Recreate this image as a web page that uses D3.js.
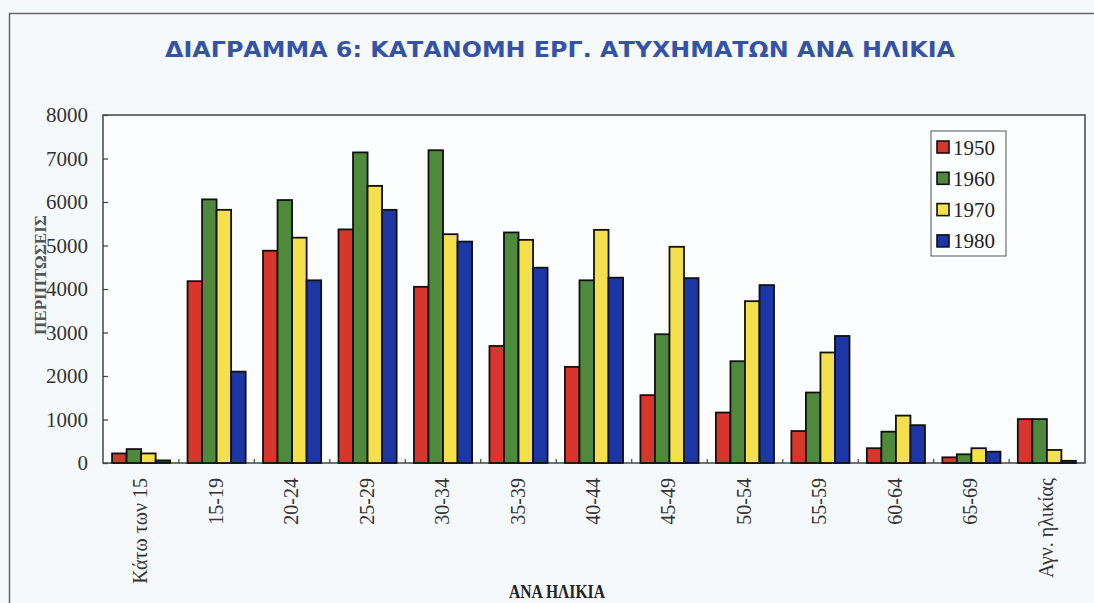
<!DOCTYPE html>
<html>
<head>
<meta charset="utf-8">
<script src="https://cdn.jsdelivr.net/npm/d3@7"></script>
<style>
  html, body { margin: 0; padding: 0; background: #f6f9fc; }
  svg { display: block; }
</style>
</head>
<body>
<div id="chart"></div>
<script>
// age groups
const categories = ['Κάτω των 15', '15-19', '20-24', '25-29', '30-34', '35-39', '40-44',
  '45-49', '50-54', '55-59', '60-64', '65-69', 'Αγν. ηλικίας'];
const years = ['1950', '1960', '1970', '1980'];

// cases per year
const values1950 = [220, 4180, 4880, 5370, 4050, 2690, 2210, 1560, 1160, 735, 340, 130, 1010];
const values1960 = [320, 6060, 6045, 7140, 7190, 5300, 4200, 2960, 2340, 1620, 720, 200, 1010];
const values1970 = [220, 5820, 5180, 6370, 5260, 5130, 5360, 4970, 3720, 2540, 1090, 340, 300];
const values1980 = [60, 2100, 4200, 5820, 5090, 4490, 4260, 4250, 4090, 2920, 870, 260, 50];
const yTicks = [0, 1000, 2000, 3000, 4000, 5000, 6000, 7000, 8000];

const title = 'ΔΙΑΓΡΑΜΜΑ 6: ΚΑΤΑΝΟΜΗ ΕΡΓ. ΑΤΥΧΗΜΑΤΩΝ ΑΝΑ ΗΛΙΚΙΑ';
const yTitle = 'ΠΕΡΙΠΤΩΣΕΙΣ';
const xTitle = 'ΑΝΑ ΗΛΙΚΙΑ';

const seriesValues = [values1950, values1960, values1970, values1980];
const colors = ['#d8352c', '#4f8a3c', '#f4df4c', '#1d36a6'];

const width = 1094, height = 603;
const plotLeft = 103, plotRight = 1085, plotTop = 115, plotBottom = 463;

const svg = d3.select('#chart').append('svg')
  .attr('width', width)
  .attr('height', height);

// outer page frame
svg.append('path')
  .attr('d', `M9.5,${height} V13.5 H${width}`)
  .attr('fill', 'none')
  .attr('stroke', '#666')
  .attr('stroke-width', 1.5);

svg.append('text')
  .attr('x', 560)
  .attr('y', 57)
  .attr('text-anchor', 'middle')
  .attr('textLength', 790)
  .attr('lengthAdjust', 'spacingAndGlyphs')
  .style('font-family', '"DejaVu Sans", sans-serif')
  .style('font-weight', 'bold')
  .style('font-size', '22px')
  .style('fill', '#3553a6')
  .text(title);

const x0 = d3.scaleBand()
  .domain(categories)
  .range([plotLeft, plotRight])
  .paddingInner(0.23)
  .paddingOuter(0.12);

const x1 = d3.scaleBand()
  .domain(years)
  .range([0, x0.bandwidth()]);

const y = d3.scaleLinear()
  .domain([0, 8000])
  .range([plotBottom, plotTop]);

// plot frame
svg.append('rect')
  .attr('x', plotLeft)
  .attr('y', plotTop)
  .attr('width', plotRight - plotLeft)
  .attr('height', plotBottom - plotTop)
  .attr('fill', '#fbfdfe')
  .attr('stroke', '#444')
  .attr('stroke-width', 1.5);

// y axis: labels outside, ticks inside
const yAxis = svg.append('g')
  .attr('transform', `translate(${plotLeft},0)`)
  .call(d3.axisRight(y).tickValues(yTicks).tickSize(5).tickFormat(''));
yAxis.select('.domain').remove();
yAxis.selectAll('line').attr('stroke', '#444').attr('stroke-width', 1.2);

svg.append('g').selectAll('text')
  .data(yTicks)
  .join('text')
  .attr('x', plotLeft - 15)
  .attr('y', d => y(d))
  .attr('dy', '0.35em')
  .attr('text-anchor', 'end')
  .style('font-family', '"Liberation Serif", serif')
  .style('font-size', '21px')
  .style('fill', '#333')
  .text(d => d);

// small ticks between groups on the baseline
const gap = x0.step() - x0.bandwidth();
svg.append('g').selectAll('line')
  .data(categories.slice(0, -1))
  .join('line')
  .attr('x1', d => x0(d) + x0.bandwidth() + gap / 2)
  .attr('x2', d => x0(d) + x0.bandwidth() + gap / 2)
  .attr('y1', plotBottom)
  .attr('y2', plotBottom - 4)
  .attr('stroke', '#444')
  .attr('stroke-width', 1.2);

// bars
const groups = svg.append('g').selectAll('g')
  .data(categories)
  .join('g')
  .attr('transform', d => `translate(${x0(d)},0)`);

groups.selectAll('rect')
  .data((c, i) => years.map((yr, j) => ({ yr, j, v: seriesValues[j][i] })))
  .join('rect')
  .attr('x', d => x1(d.yr))
  .attr('y', d => y(d.v))
  .attr('width', x1.bandwidth())
  .attr('height', d => y(0) - y(d.v))
  .attr('fill', d => colors[d.j])
  .attr('stroke', '#111')
  .attr('stroke-width', 1.8);

// x labels, rotated
svg.append('g').selectAll('text')
  .data(categories)
  .join('text')
  .attr('transform', d => `translate(${x0(d) + x0.bandwidth() / 2 + 6},${plotBottom + 15}) rotate(-90)`)
  .attr('text-anchor', 'end')
  .style('font-family', '"Liberation Serif", serif')
  .style('font-size', '20px')
  .style('fill', '#333')
  .text(d => d);

svg.append('text')
  .attr('x', 557)
  .attr('y', 598)
  .attr('text-anchor', 'middle')
  .attr('textLength', 96)
  .attr('lengthAdjust', 'spacingAndGlyphs')
  .style('font-family', '"Liberation Serif", serif')
  .style('font-weight', 'bold')
  .style('font-size', '19px')
  .style('fill', '#222')
  .text(xTitle);

svg.append('text')
  .attr('transform', 'translate(46,275) rotate(-90)')
  .attr('text-anchor', 'middle')
  .attr('textLength', 120)
  .attr('lengthAdjust', 'spacingAndGlyphs')
  .style('font-family', '"Liberation Serif", serif')
  .style('font-weight', 'bold')
  .style('font-size', '17px')
  .style('fill', '#555')
  .text(yTitle);

// legend
const legend = svg.append('g').attr('transform', 'translate(931,131)');
legend.append('rect')
  .attr('width', 75)
  .attr('height', 125)
  .attr('fill', '#fbfdfe')
  .attr('stroke', '#555')
  .attr('stroke-width', 1);

const item = legend.selectAll('g.item')
  .data(years)
  .join('g')
  .attr('class', 'item')
  .attr('transform', (d, i) => `translate(6,${16 + i * 31.3})`);

item.append('rect')
  .attr('x', 0)
  .attr('y', -6)
  .attr('width', 12)
  .attr('height', 12)
  .attr('fill', (d, i) => colors[i])
  .attr('stroke', '#111')
  .attr('stroke-width', 1.6);

item.append('text')
  .attr('x', 16)
  .attr('dy', '0.36em')
  .style('font-family', '"Liberation Serif", serif')
  .style('font-size', '21px')
  .style('fill', '#222')
  .text(d => d);
</script>
</body>
</html>
